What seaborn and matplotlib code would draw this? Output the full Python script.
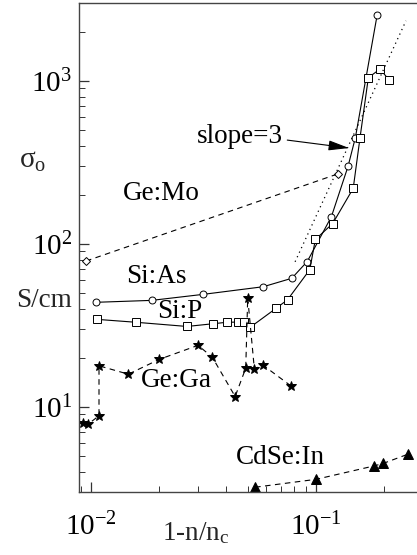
import numpy as np
import pandas as pd
import matplotlib
matplotlib.use("Agg")
import matplotlib.pyplot as plt
from matplotlib.ticker import LogLocator, NullFormatter
import seaborn as sns

# Conductivity prefactor sigma_o vs distance from the critical concentration
si_as_x = [0.01056, 0.0186, 0.0315, 0.0583, 0.078, 0.0914, 0.117, 0.1387, 0.1496, 0.187]
si_as_y = [43.9, 45.1, 49.1, 54.7, 61.6, 78.1, 147, 299, 450, 2551]

si_p_x = [0.0106, 0.01585, 0.0267, 0.0347, 0.0401, 0.0452, 0.0479, 0.0509, 0.0664,
          0.0747, 0.0938, 0.0993, 0.1186, 0.1463, 0.1569, 0.1708, 0.1925, 0.2117]
si_p_y = [34.5, 33.1, 31.2, 32.4, 33.1, 33.2, 33.2, 30.8, 40.3,
          45.5, 69.6, 106.6, 133.6, 219.6, 450, 1048, 1185, 1010]

ge_mo_x = [0.0095, 0.1257]
ge_mo_y = [78.6, 270]

ge_ga_x = [0.00921, 0.00973, 0.01085, 0.01085, 0.01465, 0.0201, 0.0299, 0.0346,
           0.0437, 0.0487, 0.0497, 0.0532, 0.058, 0.0772]
ge_ga_y = [8.01, 7.87, 8.84, 17.9, 15.9, 19.6, 23.9, 20.2,
           11.6, 17.3, 46.8, 17.1, 18.1, 13.5]

cdse_in_x = [0.0536, 0.1, 0.181, 0.199, 0.2556]
cdse_in_y = [3.22, 3.60, 4.35, 4.51, 5.13]

# reference power law sigma ~ x^3
slope_x = [0.0807, 0.251]
slope_prefactor = 77.8 / 0.0807 ** 3

series_labels = ["Si:As", "Si:P", "Ge:Mo", "Ge:Ga", "CdSe:In"]

sns.set_theme(style="ticks")
plt.rcParams["font.family"] = ["Liberation Serif", "DejaVu Serif"]
plt.rcParams["mathtext.fontset"] = "custom"
plt.rcParams["mathtext.rm"] = "Liberation Serif"
plt.rcParams["mathtext.it"] = "Liberation Serif:italic"

fig = plt.figure(figsize=(4.17, 5.55), dpi=100)
ax = fig.add_axes([0.1894, 0.1135, 0.8106, 0.8811])

ink = "black"
lw = 0.8


def draw(xs, ys, ls, marker, filled, ms):
    df = pd.DataFrame({"x": xs, "y": ys})
    sns.lineplot(data=df, x="x", y="y", ax=ax, sort=False, estimator=None,
                 color=ink, linewidth=lw, linestyle=ls, marker=marker,
                 markersize=ms, markeredgewidth=0.7, markeredgecolor=ink,
                 markerfacecolor=ink if filled else "white")


draw(si_as_x, si_as_y, "-", "o", False, 5)
draw(si_p_x, si_p_y, "-", "s", False, 5.5)
draw(ge_mo_x, ge_mo_y, (0, (5, 4)), "D", False, 4)
draw(ge_ga_x, ge_ga_y, (0, (5, 4)), "*", True, 7)
draw(cdse_in_x, cdse_in_y, (0, (5, 4)), "^", True, 6.5)

sx = np.array(slope_x)
ax.plot(sx, slope_prefactor * sx ** 3, color=ink, linewidth=0.9,
        linestyle=(0, (1, 3)))

ax.set_xscale("log")
ax.set_yscale("log")
ax.set_xlim(0.00884, 0.281)
ax.set_ylim(3.01, 3010)
ax.set_xlabel("")
ax.set_ylabel("")

ax.xaxis.set_major_locator(LogLocator(base=10))
ax.yaxis.set_major_locator(LogLocator(base=10))
ax.xaxis.set_minor_locator(LogLocator(base=10, subs=np.arange(2, 10)))
ax.yaxis.set_minor_locator(LogLocator(base=10, subs=np.arange(2, 10)))
ax.xaxis.set_minor_formatter(NullFormatter())
ax.yaxis.set_minor_formatter(NullFormatter())

ax.tick_params(which="both", direction="in", colors="#333333", labelcolor="black",
               top=False, right=False, labelsize=21)
ax.tick_params(which="major", length=7, width=0.9)
ax.tick_params(which="minor", length=4, width=0.7)
ax.tick_params(axis="x", which="major", pad=15)
ax.tick_params(axis="y", which="major", pad=5)

for side in ["left", "bottom", "top"]:
    ax.spines[side].set_color("#444444")
    ax.spines[side].set_linewidth(1.0)
ax.spines["right"].set_visible(False)

tsize = 19.5
label_pos = {
    "Ge:Mo": (0.02047, 186),
    "Si:As": (0.01945, 57.6),
    "Si:P": (0.02486, 35.2),
    "Ge:Ga": (0.02405, 13.27),
    "CdSe:In": (0.0692, 4.47),
}
for name in series_labels:
    x, y = label_pos[name]
    ax.text(x, y, name, ha="center", va="baseline", fontsize=tsize, color=ink)

ax.text(0.046, 416, "slope=3", ha="center", va="baseline", fontsize=tsize, color=ink)
ax.annotate("", xy=(0.1402, 388), xytext=(0.0745, 434),
            arrowprops=dict(arrowstyle="-|>,head_length=0.9,head_width=0.22",
                            color=ink, lw=0.8, mutation_scale=14,
                            shrinkA=0, shrinkB=0))

fig.text(33 / 417, 1 - 168 / 555, r"σ$_\mathrm{o}$", ha="center", va="baseline",
         fontsize=21)
fig.text(44 / 417, 1 - 307 / 555, "S/cm", ha="center", va="baseline", fontsize=tsize)
fig.text(196 / 417, 1 - 540 / 555, r"1-n/n$_\mathrm{c}$", ha="center",
         va="baseline", fontsize=tsize)

fig.savefig("out.png", dpi=100)
